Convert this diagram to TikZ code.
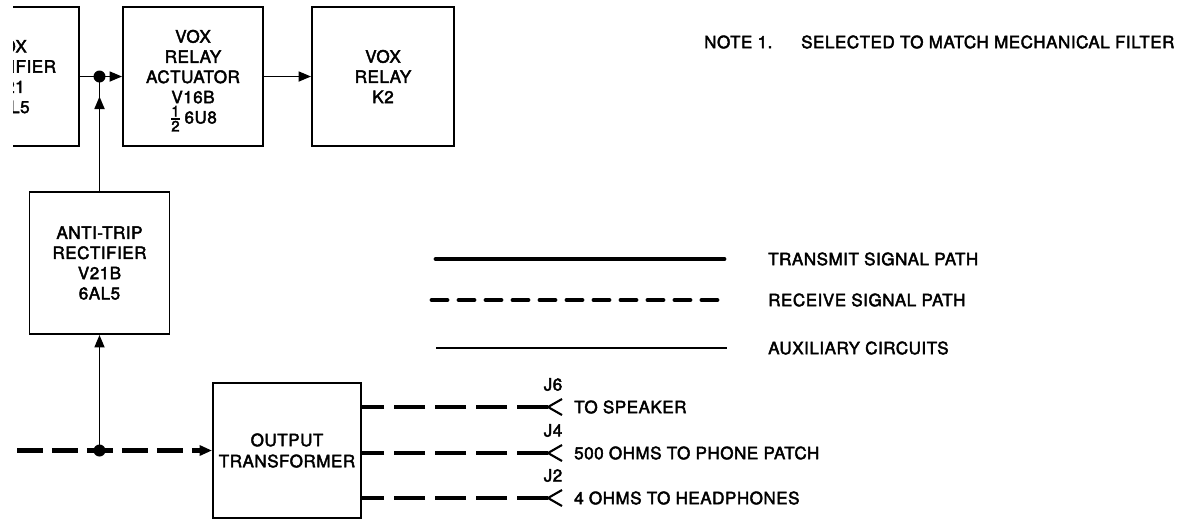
\documentclass[tikz,border=0pt]{standalone}
\usepackage{amsmath}
\usepackage{fontspec}
\setmainfont{TeX Gyre Heros}[FakeBold=2.5,LetterSpace=3]
\usetikzlibrary{arrows.meta,calc}

\begin{document}
\begin{tikzpicture}[x=0.02cm,y=-0.02cm,>={Triangle[length=0.25cm,width=0.2cm]},
  txt/.style={font=\fontsize{9.7}{11.5}\selectfont},
  blk/.style={draw,line width=1.1pt,inner sep=0pt,align=center,txt,
    minimum width=2.8cm,minimum height=2.78cm},
  aux/.style={line width=1pt},
  rxpath/.style={line width=2.5pt,dash pattern=on 0.52cm off 0.18cm},
  rxout/.style={line width=2.3pt,dash pattern=on 0.62cm off 0.2cm},
  jdot/.style={circle,fill,inner sep=0pt,minimum size=0.24cm}]

% page (the scan leaves a white strip at the left)
\useasboundingbox (0,0) rectangle (1196,522);
\clip (13,0) rectangle (1196,522);

% blocks
\node[blk] (vrect) at (9,76.5) {VOX\\RECTIFIER\\V21\\6AL5};
\node[blk] (vact) at (193,76.5) {\rule{0pt}{12pt}VOX\\RELAY\\ACTUATOR\\V16B\\
  $\genfrac{}{}{0.7pt}{}{\mbox{\fontsize{8.5}{9}\selectfont 1}}{\mbox{\fontsize{8.5}{9}\selectfont 2}}$\,6U8};
\node[blk,minimum width=2.84cm] (vrly) at (383,76.5) {VOX\\RELAY\\K2};
\node[blk,minimum height=2.84cm] (atrip) at (99.5,263) {ANTI-TRIP\\RECTIFIER\\V21B\\6AL5};
\node[blk,minimum width=2.96cm,minimum height=2.7cm,
  font=\fontsize{9.7}{12}\selectfont] (outx) at (287,450.5) {OUTPUT\\TRANSFORMER};

% junctions
\coordinate (jtop) at (vrect.east -| atrip.north);
\coordinate (jtip) at ($(jtop)+(0,20)$);
\coordinate (jbot) at (outx.west -| atrip.south);
\coordinate (rxin) at (17,450.5);
\node[jdot] (dtop) at (jtop) {};
\node[jdot] (dbot) at (jbot) {};

% auxiliary circuits
\draw[aux,->] (vrect.east) -- (vact.west);
\draw[aux,->] (vact.east) -- (vrly.west);
\draw[aux] (atrip.north) -- (jtop);
\draw[aux,->] (atrip.north) -- (jtip);
\draw[aux,->] (jbot) -- (atrip.south);

% receive signal path
\draw[rxpath,->] (rxin) -- (outx.west);

% outputs
\foreach \j/\y/\lbl in {6/407/TO SPEAKER,4/453/500 OHMS TO PHONE PATCH,2/498/4 OHMS TO HEADPHONES}{
  \coordinate (j\j) at (548,\y);
  \draw[rxout] (j\j) -- (outx.east |- j\j);
  \draw[aux,line width=1.2pt] ($(j\j)+(14,-8)$) -- (j\j) -- ($(j\j)+(14,8)$);
  \node[txt,anchor=south] (jl\j) at ($(j\j)+(5,-10)$) {J\j};
  \node[txt,anchor=west] (jt\j) at ($(j\j)+(20,0)$) {\lbl};
}

% legend
\coordinate (txa) at (436,259);
\coordinate (txb) at (724,259);
\coordinate (rxa) at (432,300);
\coordinate (rxb) at (728,300);
\coordinate (axa) at (436,348);
\coordinate (axb) at (727,348);
\draw[line width=2.8pt,line cap=round] (txa) -- (txb);
\draw[line width=2.8pt,line cap=round,dash pattern=on 0.3cm off 0.24cm] (rxa) -- (rxb);
\draw[aux] (axa) -- (axb);
\node[txt,anchor=west] (ltx) at (762,259) {TRANSMIT SIGNAL PATH};
\node[txt,anchor=west] (lrx) at (762,300) {RECEIVE SIGNAL PATH};
\node[txt,anchor=west] (lax) at (762,348) {AUXILIARY CIRCUITS};

% note
\node[txt,anchor=west] (note) at (698,42) {NOTE 1.};
\node[txt,anchor=west] (notetxt) at (795,42) {SELECTED TO MATCH MECHANICAL FILTER};

\end{tikzpicture}
\end{document}
